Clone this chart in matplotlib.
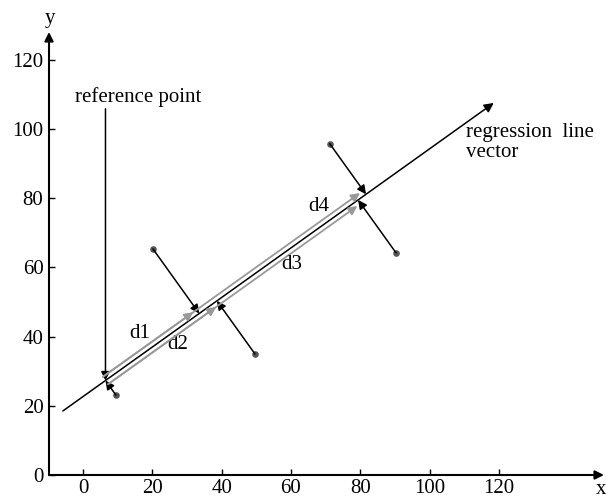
import matplotlib.pyplot as plt
import numpy as np
import matplotlib

matplotlib.rcParams['font.family'] = ['Liberation Serif', 'DejaVu Serif']
matplotlib.rcParams['font.size'] = 15

# 样本点
pts_x = np.array([9.5, 20.2, 49.6, 71.2, 90.3])
pts_y = np.array([23.1, 65.3, 35.0, 95.7, 64.2])

# 回归直线（起点与终点）
reg_start = np.array([-5.8, 18.5])
reg_end = np.array([118.5, 107.5])

# 刻度
x_ticks = [0, 20, 40, 60, 80, 100, 120]
y_ticks = [0, 20, 40, 60, 80, 100, 120]

# 投影距离标注: (标签, 点序号, 偏移方向 +1 上 / -1 下, 文字位置)
d_labels = ['d1', 'd2', 'd3', 'd4']
d_index = [1, 2, 4, 3]
d_side = [1, -1, -1, 1]
d_text_x = [16.4, 27.4, 60.3, 68.1]
d_text_y = [41.0, 37.6, 60.7, 77.7]

fig = plt.figure(figsize=(6.06, 5.00), dpi=100)
ax = fig.add_axes([49 / 606, 25 / 500, 555 / 606, 443 / 500])
ax.set_xlim(-9.8, 150.3)
ax.set_ylim(0, 128)
for s in ax.spines.values():
    s.set_visible(False)

ax.set_xticks(x_ticks)
ax.set_yticks(y_ticks)
ax.tick_params(direction='in', length=4, width=1, pad=4, labelsize=15)
ax.tick_params(axis='x', pad=3)

# 坐标轴箭头
ax.annotate('', xy=(150.3, 0), xytext=(-9.8, 0), annotation_clip=False,
            arrowprops=dict(arrowstyle='-|>', color='k', lw=1.5, mutation_scale=13,
                            shrinkA=0, shrinkB=0))
ax.annotate('', xy=(-9.8, 128), xytext=(-9.8, 0), annotation_clip=False,
            arrowprops=dict(arrowstyle='-|>', color='k', lw=1.5, mutation_scale=13,
                            shrinkA=0, shrinkB=0))
fig.text(50 / 606, 1 - 18 / 500, 'y', ha='center', va='center', fontsize=15)
fig.text(601 / 606, 1 - 489 / 500, 'x', ha='center', va='center', fontsize=15)

# 回归线向量
ax.annotate('', xy=reg_end, xytext=reg_start,
            arrowprops=dict(arrowstyle='-|>', color='k', lw=1.1, mutation_scale=14,
                            shrinkA=0, shrinkB=0))
ax.text(110.5, 99.0, 'regression  line', ha='left', va='center')
ax.text(110.5, 93.2, 'vector', ha='left', va='center')

# 垂直投影
u = (reg_end - reg_start) / np.linalg.norm(reg_end - reg_start)
n = np.array([-u[1], u[0]])
pts = np.column_stack([pts_x, pts_y])
feet = reg_start + np.outer((pts - reg_start) @ u, u)

ax.scatter(pts_x, pts_y, s=14, color='#555555', zorder=3)
for p, f in zip(pts, feet):
    ax.annotate('', xy=f, xytext=p,
                arrowprops=dict(arrowstyle='-|>', color='k', lw=1.1, mutation_scale=13,
                                shrinkA=0, shrinkB=0))

# 参考点
ref = feet[0]
ax.annotate('', xy=ref, xytext=(ref[0], 105.8),
            arrowprops=dict(arrowstyle='-|>', color='k', lw=1.1, mutation_scale=13,
                            shrinkA=0, shrinkB=0))
ax.text(-2.3, 109.3, 'reference point', ha='left', va='center')

# 距离 d1..d4
off = 1.3
for lab, i, side, tx, ty in zip(d_labels, d_index, d_side, d_text_x, d_text_y):
    a = ref + side * off * n
    b = feet[i] + side * off * n
    ax.annotate('', xy=b, xytext=a,
                arrowprops=dict(arrowstyle='-|>', color='#999999', lw=1.3, mutation_scale=13,
                                shrinkA=0, shrinkB=3))
    ax.text(tx, ty, lab, ha='center', va='center')

fig.savefig('out.png', dpi=100)
